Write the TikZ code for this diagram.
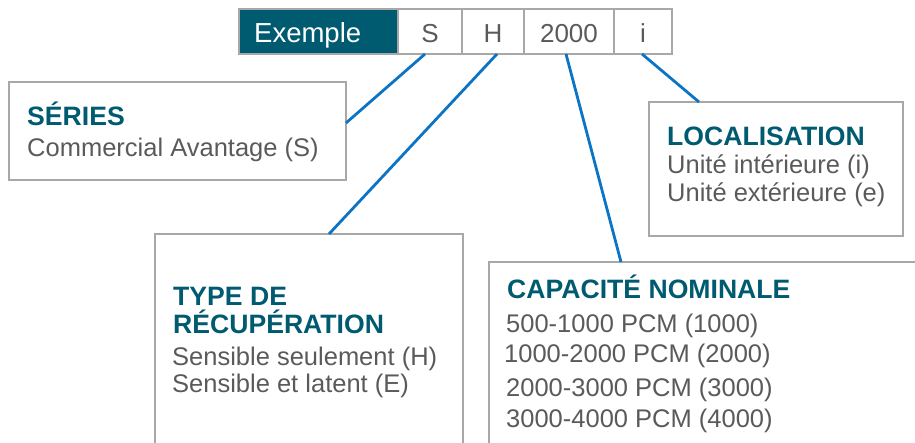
\documentclass[tikz,border=0pt]{standalone}
\usepackage{fontspec}
\setmainfont{Liberation Sans}
\usetikzlibrary{calc}
\definecolor{hdteal}{HTML}{005A70}
\definecolor{boxgray}{HTML}{A8A8A8}
\definecolor{bodygray}{HTML}{5A5A5A}
\definecolor{linkblue}{HTML}{0B74C4}
\begin{document}
\begin{tikzpicture}[x=1pt,y=-1pt,
  panel/.style={draw=boxgray, line width=1.4pt, anchor=north west, inner sep=0pt, outer sep=0pt},
  cell/.style={panel, minimum height=45pt},
  head/.style={anchor=base west, inner sep=0pt, text=hdteal, font=\fontsize{26.6}{30}\selectfont\bfseries},
  body/.style={anchor=base west, inner sep=0pt, text=bodygray, font=\fontsize{25.5}{30}\selectfont},
  celltext/.style={anchor=base, inner sep=0pt, text=bodygray, font=\fontsize{26}{30}\selectfont},
  link/.style={draw=linkblue, line width=2.8pt}]
\useasboundingbox (0,0) rectangle (915,442);
\clip (0,0) rectangle (915,442);

% header
\node[cell, fill=hdteal, minimum width=159pt] (ex) at (239,9) {};
\node[cell, minimum width=64pt] (cS) at (398,9) {};
\node[cell, minimum width=62pt] (cH) at (462,9) {};
\node[cell, minimum width=90pt] (cN) at (524,9) {};
\node[cell, minimum width=58pt] (cI) at (614,9) {};
\node[anchor=base west, inner sep=0pt, text=white, font=\fontsize{27.5}{30}\selectfont] (tEx) at (254,42) {Exemple};
\node[celltext] (tS) at (430,42) {S};
\node[celltext] (tH) at (493,42) {H};
\node[celltext] (tN) at (569,42) {2000};
\node[celltext] (tI) at (643,42) {i};

% panels
\node[panel, minimum width=337pt, minimum height=98pt] (series) at (9,82) {};
\node[panel, minimum width=254pt, minimum height=134pt] (loc) at (649,102) {};
\node[panel, minimum width=308pt, minimum height=240pt] (type) at (155,234) {};
\node[panel, minimum width=460pt, minimum height=220pt] (cap) at (489,262) {};

% texts
\node[head] (hS) at (27,125) {SÉRIES};
\node[body] (bS) at (27,156) {Commercial Avantage (S)};

\node[head] (hL) at (667,145) {LOCALISATION};
\node[body] (bL1) at (667,173) {Unité intérieure (i)};
\node[body] (bL2) at (667,201) {Unité extérieure (e)};

\node[head] (hT1) at (173,305) {TYPE DE};
\node[head] (hT2) at (173,333) {RÉCUPÉRATION};
\node[body] (bT1) at (172,365) {Sensible seulement (H)};
\node[body] (bT2) at (172,392) {Sensible et latent (E)};

\node[head] (hC) at (507,298) {CAPACITÉ NOMINALE};
\node[body] (bC1) at (506,332) {500-1000 PCM (1000)};
\node[body] (bC2) at (504,362) {1000-2000 PCM (2000)};
\node[body] (bC3) at (506,396) {2000-3000 PCM (3000)};
\node[body] (bC4) at (506,427) {3000-4000 PCM (4000)};

% connectors
\draw[link] ($(cS.south)+(-5,0)$) -- ($(series.north east)+(0,41)$);
\draw[link] ($(cH.south)+(4,0)$) -- ($(type.north west)+(174,0)$);
\draw[link] ($(cN.south)+(-3,0)$) -- ($(cap.north west)+(132,0)$);
\draw[link] ($(cI.south)+(-1,0)$) -- ($(loc.north west)+(50,0)$);
\end{tikzpicture}
\end{document}
